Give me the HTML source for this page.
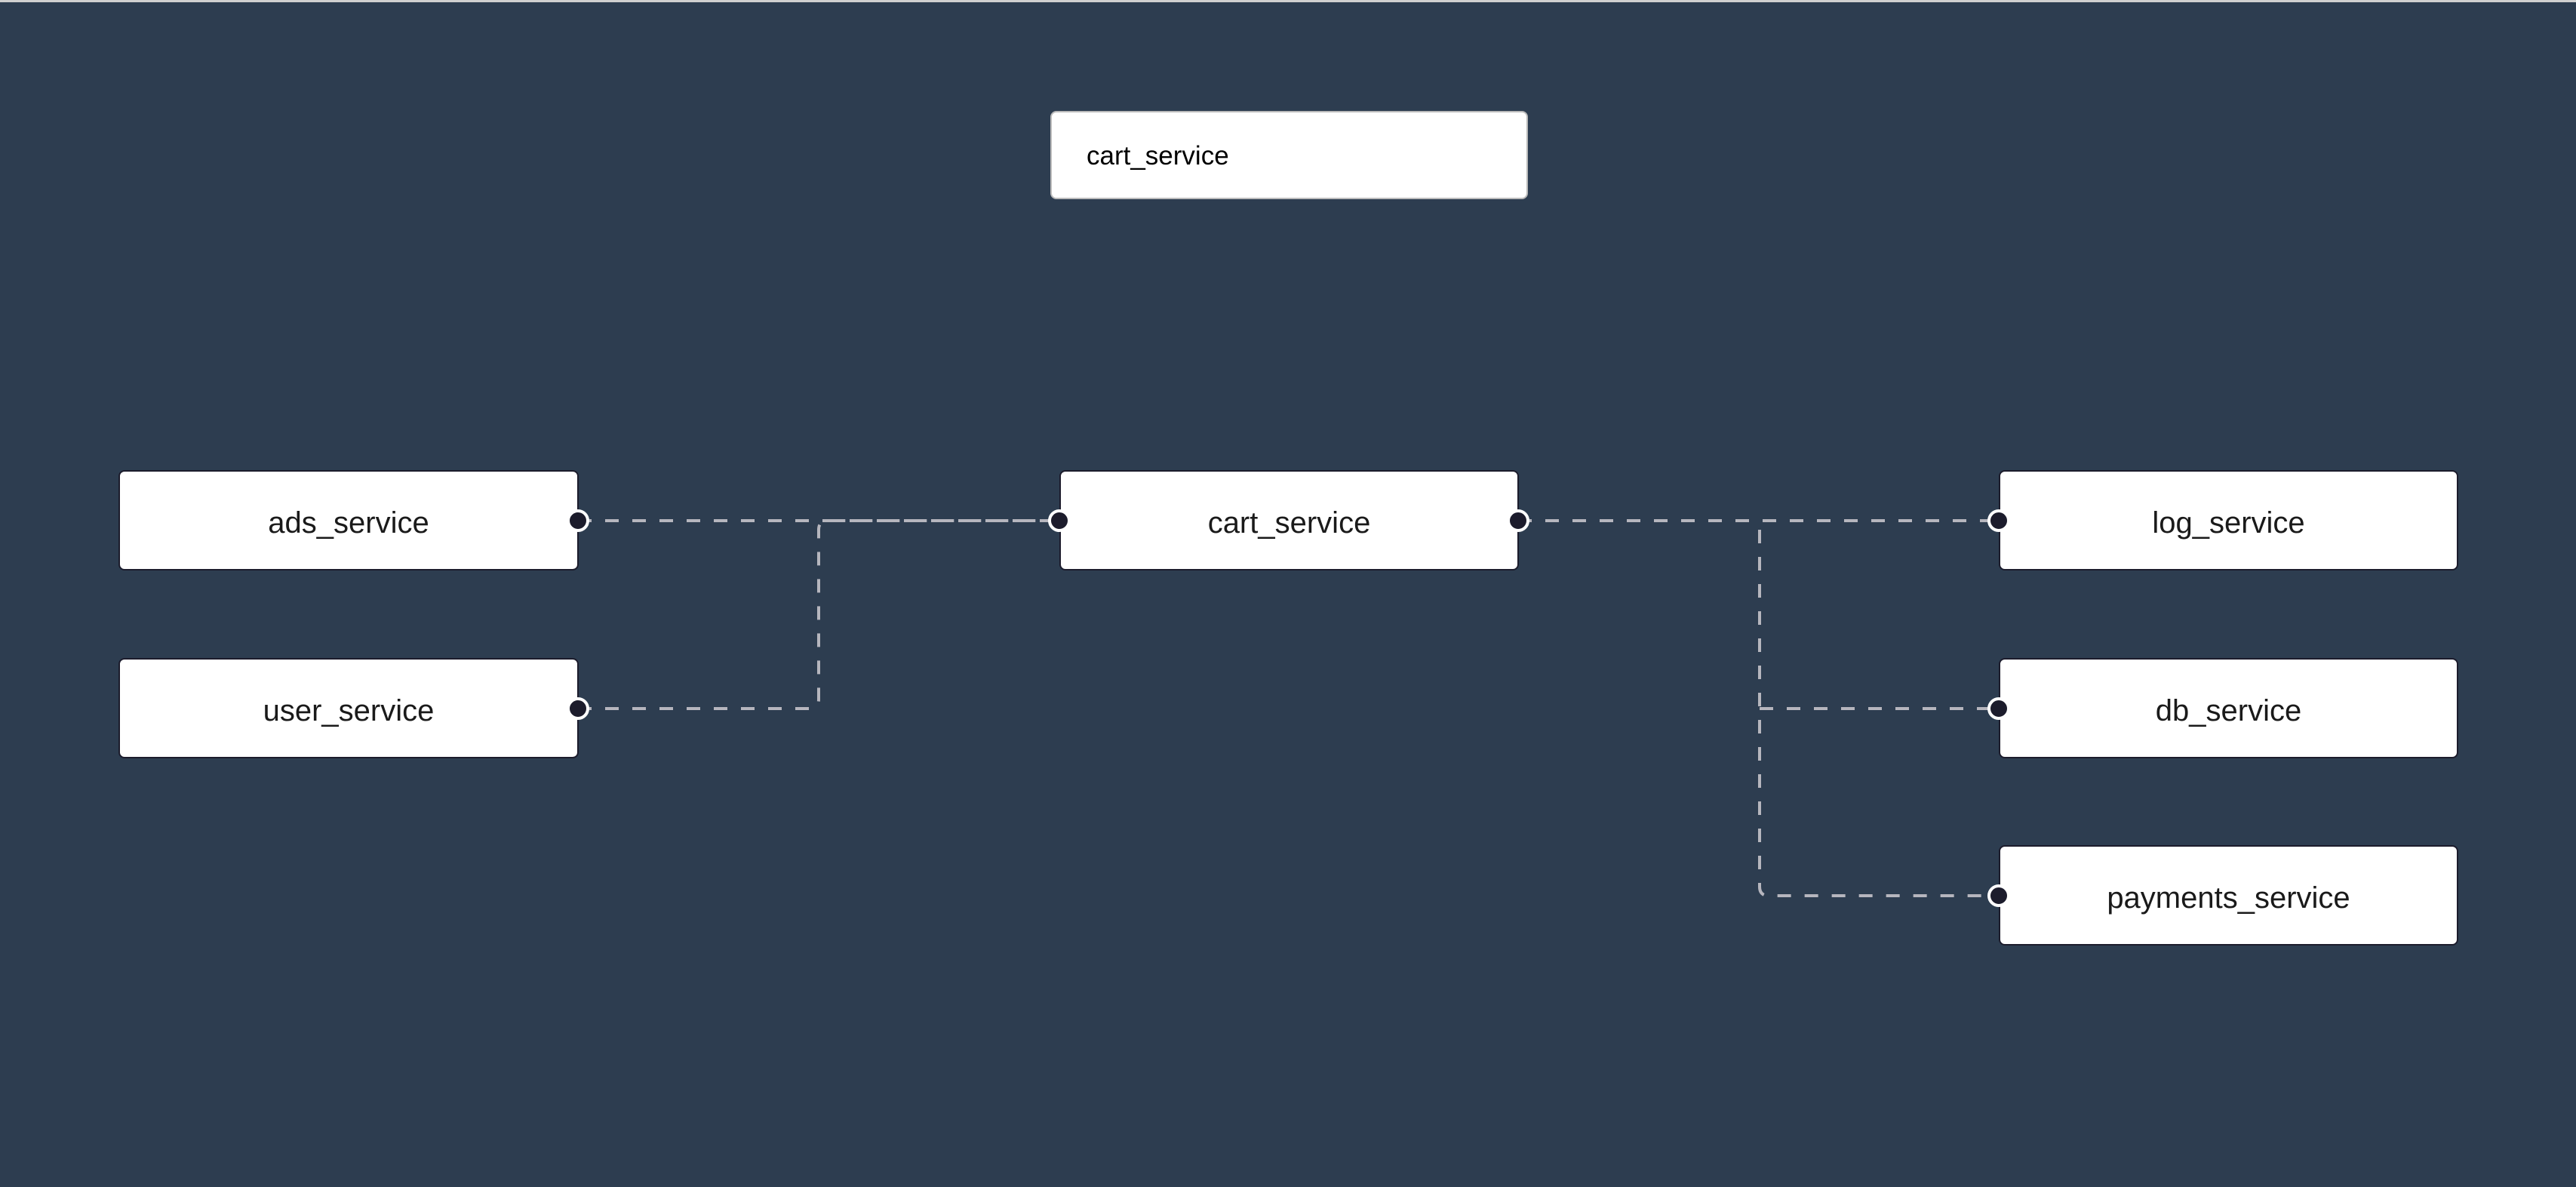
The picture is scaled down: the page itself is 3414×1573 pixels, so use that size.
<!DOCTYPE html>
<html><head><meta charset="utf-8"><style>
html,body{margin:0;padding:0;background:#2d3d50;}
body{width:3414px;height:1573px;position:relative;overflow:hidden;}
.top{position:absolute;left:0;top:0;width:3414px;height:3px;background:#d0d0d0;}
.n{position:absolute;background:#fff;border:2px solid #1c1c2c;border-radius:8px;box-sizing:border-box;display:flex;align-items:center;justify-content:center;font-family:"Liberation Sans",sans-serif;font-size:40px;color:#1a1a1a;padding-top:8px;}
.t{position:absolute;left:1392px;top:147px;width:633px;height:117px;background:#fff;border:2px solid #bbb;border-radius:8px;box-sizing:border-box;font-family:"Liberation Sans",sans-serif;font-size:35px;color:#000;}
svg{position:absolute;left:0;top:0;}
</style></head><body>
<div class="top"></div>
<div class="t"><span style="position:absolute;left:46px;top:38px;">cart_service</span></div>
<div class="n" style="left:157px;top:623px;width:610px;height:133px;">ads_service</div>
<div class="n" style="left:157px;top:872px;width:610px;height:133px;">user_service</div>
<div class="n" style="left:1404px;top:623px;width:609px;height:133px;">cart_service</div>
<div class="n" style="left:2649px;top:623px;width:609px;height:133px;">log_service</div>
<div class="n" style="left:2649px;top:872px;width:609px;height:133px;">db_service</div>
<div class="n" style="left:2649px;top:1120px;width:609px;height:133px;">payments_service</div>
<svg width="3414" height="1573">
<g fill="none" stroke="#b6b6be" stroke-width="4" stroke-dasharray="18,18">
<path d="M766 690 H1404"/>
<path d="M766 939 H1073 Q1085 939 1085 927 V702 Q1085 690 1097 690 H1404"/>
<path d="M2012 690 H2649"/>
<path d="M2332 702 V1175 Q2332 1187 2344 1187 H2649"/>
<path d="M2332 939 H2649"/>
</g>
<g fill="#1c1c2c" stroke="#fff" stroke-width="4">
<circle cx="766" cy="690" r="13"/><circle cx="766" cy="939" r="13"/>
<circle cx="1404" cy="690" r="13"/><circle cx="2012" cy="690" r="13"/>
<circle cx="2649" cy="690" r="13"/><circle cx="2649" cy="939" r="13"/><circle cx="2649" cy="1187" r="13"/>
</g>
</svg>
</body></html>
